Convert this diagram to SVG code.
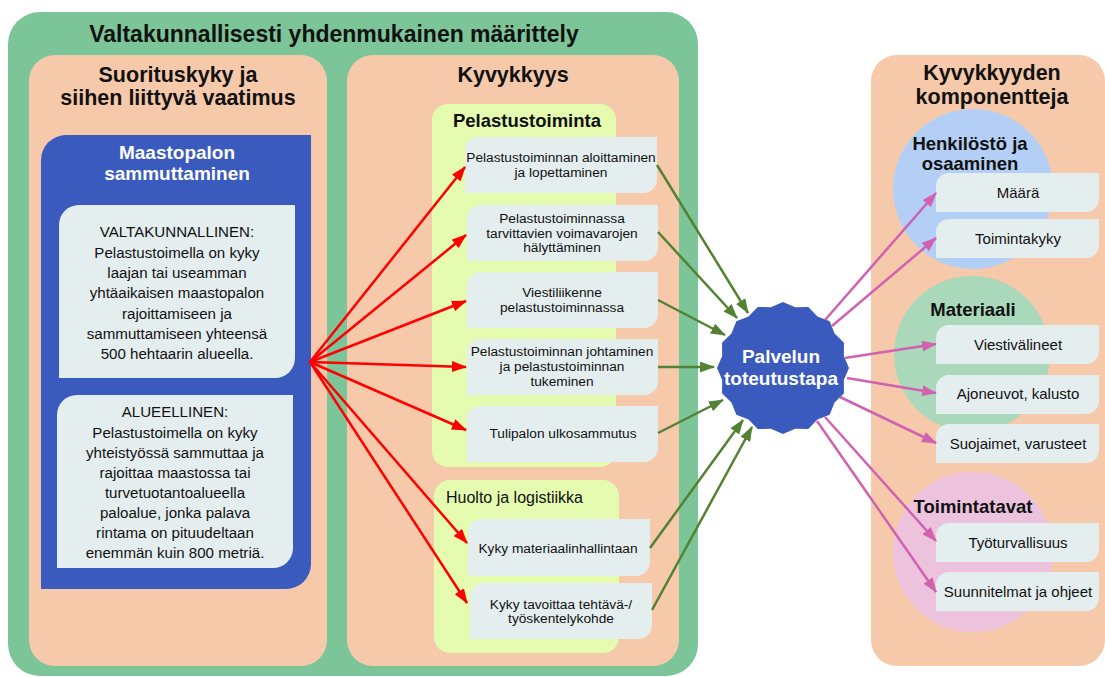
<svg xmlns="http://www.w3.org/2000/svg" width="1105" height="677" viewBox="0 0 1105 677">
<style>
text{font-family:"Liberation Sans",Arial,sans-serif;fill:#111;text-anchor:middle}
.h1{font-size:23px;font-weight:bold}
.h2{font-size:21.5px;font-weight:bold}
.h3{font-size:18.5px;font-weight:bold}
.wt{fill:#fff;font-size:19px;font-weight:bold}
.it{font-size:13.7px}
.rt{font-size:15px}
.lt{font-size:15.1px}
.box{fill:#e5eeef}
.peach{fill:#f6c9aa}
.lg{fill:#e5fbb0}
.red{stroke:#ff0000;stroke-width:2.5;fill:none;marker-end:url(#ar)}
.grn{stroke:#548235;stroke-width:2.5;fill:none;marker-end:url(#ag)}
.pnk{stroke:#d062b0;stroke-width:2.5;fill:none;marker-end:url(#ap)}
</style>
<defs>
<marker id="ar" markerUnits="userSpaceOnUse" markerWidth="15" markerHeight="11" refX="14" refY="5.5" orient="auto"><path d="M0,0 L15,5.5 L0,11 z" fill="#ff0000"/></marker>
<marker id="ag" markerUnits="userSpaceOnUse" markerWidth="15" markerHeight="11" refX="14" refY="5.5" orient="auto"><path d="M0,0 L15,5.5 L0,11 z" fill="#548235"/></marker>
<marker id="ap" markerUnits="userSpaceOnUse" markerWidth="15" markerHeight="11" refX="14" refY="5.5" orient="auto"><path d="M0,0 L15,5.5 L0,11 z" fill="#d062b0"/></marker>
</defs>
<rect width="1105" height="677" fill="#fff"/>

<g id="valtakunnallisesti">
<rect x="8" y="12" width="690" height="664" rx="32" fill="#7bc598"/>
<text class="h1" x="334" y="42">Valtakunnallisesti yhdenmukainen määrittely</text>
</g>

<g id="suorituskyky">
<rect class="peach" x="29" y="55" width="298" height="611" rx="26"/>
<text class="h2" x="178" y="82">Suorituskyky ja</text>
<text class="h2" x="178" y="105">siihen liittyvä vaatimus</text>
</g>

<g id="maastopalon">
<path d="M66,135 H311 V564 A25 25 0 0 1 286,589 H41 V160 A25 25 0 0 1 66,135 Z" fill="#3a5bbd"/>
<text class="wt" x="177" y="159">Maastopalon</text>
<text class="wt" x="177" y="180">sammuttaminen</text>
</g>

<g id="valtakunnallinen">
<path class="box" d="M79,205 H295 V358 A20 20 0 0 1 275,378 H59 V225 A20 20 0 0 1 79,205 Z"/>
<text class="lt" x="177" y="237">VALTAKUNNALLINEN:</text>
<text class="lt" x="177" y="257.5">Pelastustoimella on kyky</text>
<text class="lt" x="177" y="278">laajan tai useamman</text>
<text class="lt" x="177" y="298">yhtäaikaisen maastopalon</text>
<text class="lt" x="177" y="318.5">rajoittamiseen ja</text>
<text class="lt" x="177" y="338.5">sammuttamiseen yhteensä</text>
<text class="lt" x="177" y="358.5">500 hehtaarin alueella.</text>
</g>

<g id="alueellinen">
<path class="box" d="M77,395 H293 V548 A20 20 0 0 1 273,568 H57 V415 A20 20 0 0 1 77,395 Z"/>
<text class="lt" x="175" y="417">ALUEELLINEN:</text>
<text class="lt" x="175" y="437.5">Pelastustoimella on kyky</text>
<text class="lt" x="175" y="458">yhteistyössä sammuttaa ja</text>
<text class="lt" x="175" y="478">rajoittaa maastossa tai</text>
<text class="lt" x="175" y="497.5">turvetuotantoalueella</text>
<text class="lt" x="175" y="518">paloalue, jonka palava</text>
<text class="lt" x="175" y="538">rintama on pituudeltaan</text>
<text class="lt" x="175" y="558">enemmän kuin 800 metriä.</text>
</g>

<g id="kyvykkyys">
<rect class="peach" x="347" y="55" width="332" height="611" rx="26"/>
<text class="h2" x="513" y="82">Kyvykkyys</text>
</g>

<g id="pelastustoiminta">
<rect class="lg" x="432" y="104" width="184" height="363" rx="16"/>
<text class="h3" x="527" y="127">Pelastustoiminta</text>
</g>

<g id="p1">
<path class="box" d="M479,137 H657 V179 A14 14 0 0 1 643,193 H465 V151 A14 14 0 0 1 479,137 Z"/>
<text class="it" x="561" y="162">Pelastustoiminnan aloittaminen</text>
<text class="it" x="561" y="177">ja lopettaminen</text>
</g>
<g id="p2">
<path class="box" d="M481,205 H658 V247 A14 14 0 0 1 644,261 H467 V219 A14 14 0 0 1 481,205 Z"/>
<text class="it" x="562" y="223">Pelastustoiminnassa</text>
<text class="it" x="562" y="237.5">tarvittavien voimavarojen</text>
<text class="it" x="562" y="252">hälyttäminen</text>
</g>
<g id="p3">
<path class="box" d="M481,272 H658 V314 A14 14 0 0 1 644,328 H467 V286 A14 14 0 0 1 481,272 Z"/>
<text class="it" x="562" y="297">Viestiliikenne</text>
<text class="it" x="562" y="311.5">pelastustoiminnassa</text>
</g>
<g id="p4">
<path class="box" d="M481,339 H658 V381 A14 14 0 0 1 644,395 H467 V353 A14 14 0 0 1 481,339 Z"/>
<text class="it" x="562" y="356">Pelastustoiminnan johtaminen</text>
<text class="it" x="562" y="371">ja pelastustoiminnan</text>
<text class="it" x="562" y="386">tukeminen</text>
</g>
<g id="p5">
<path class="box" d="M481,406 H658 V448 A14 14 0 0 1 644,462 H467 V420 A14 14 0 0 1 481,406 Z"/>
<text class="it" x="563" y="438">Tulipalon ulkosammutus</text>
</g>

<g id="huolto">
<rect class="lg" x="434" y="480" width="185" height="173" rx="16"/>
<text x="446" y="502.5" style="font-size:16px;text-anchor:start">Huolto ja logistiikka</text>
</g>
<g id="h1">
<path class="box" d="M482,519 H650 V562 A14 14 0 0 1 636,576 H468 V533 A14 14 0 0 1 482,519 Z"/>
<text class="it" x="558" y="553">Kyky materiaalinhallintaan</text>
</g>
<g id="h2">
<path class="box" d="M484,583 H652 V625 A14 14 0 0 1 638,639 H470 V597 A14 14 0 0 1 484,583 Z"/>
<text class="it" x="561" y="609">Kyky tavoittaa tehtävä-/</text>
<text class="it" x="561" y="623">työskentelykohde</text>
</g>

<g id="komponentteja">
<rect class="peach" x="871" y="55" width="234" height="611" rx="26"/>
<text class="h2" x="992" y="80">Kyvykkyyden</text>
<text class="h2" x="992" y="104">komponentteja</text>
</g>

<g id="henkilosto">
<circle cx="973" cy="189" r="80" fill="#b3cff6"/>
<text class="h3" x="970" y="149.5">Henkilöstö ja</text>
<text class="h3" x="970" y="169.5">osaaminen</text>
</g>
<g id="materiaali">
<circle cx="972" cy="354" r="78" fill="#a9d9ba"/>
<text class="h3" x="973" y="316">Materiaali</text>
</g>
<g id="toimintatavat">
<circle cx="973" cy="552" r="80" fill="#ecc2dd"/>
<text class="h3" x="973" y="513">Toimintatavat</text>
</g>

<g id="maara">
<path class="box" d="M949,173 H1099 V199 A13 13 0 0 1 1086,212 H936 V186 A13 13 0 0 1 949,173 Z"/>
<text class="rt" x="1018" y="198">Määrä</text>
</g>
<g id="toimintakyky">
<path class="box" d="M949,219 H1099 V245 A13 13 0 0 1 1086,258 H936 V232 A13 13 0 0 1 949,219 Z"/>
<text class="rt" x="1018" y="243.5">Toimintakyky</text>
</g>
<g id="viestivalineet">
<path class="box" d="M949,325 H1099 V351 A13 13 0 0 1 1086,364 H936 V338 A13 13 0 0 1 949,325 Z"/>
<text class="rt" x="1018" y="349.5">Viestivälineet</text>
</g>
<g id="ajoneuvot">
<path class="box" d="M949,375 H1099 V401 A13 13 0 0 1 1086,414 H936 V388 A13 13 0 0 1 949,375 Z"/>
<text class="rt" x="1018" y="398.5">Ajoneuvot, kalusto</text>
</g>
<g id="suojaimet">
<path class="box" d="M949,424 H1099 V450 A13 13 0 0 1 1086,463 H936 V437 A13 13 0 0 1 949,424 Z"/>
<text class="rt" x="1018" y="448.5">Suojaimet, varusteet</text>
</g>
<g id="tyoturvallisuus">
<path class="box" d="M949,523 H1099 V549 A13 13 0 0 1 1086,562 H936 V536 A13 13 0 0 1 949,523 Z"/>
<text class="rt" x="1018" y="547.5">Työturvallisuus</text>
</g>
<g id="suunnitelmat">
<path class="box" d="M949,572 H1099 V598 A13 13 0 0 1 1086,611 H936 V585 A13 13 0 0 1 949,572 Z"/>
<text class="rt" x="1018" y="596.5">Suunnitelmat ja ohjeet</text>
</g>

<g id="connectors">
<line class="red" x1="310" y1="362" x2="465" y2="167"/>
<line class="red" x1="310" y1="362" x2="466" y2="235"/>
<line class="red" x1="310" y1="362" x2="466" y2="301"/>
<line class="red" x1="310" y1="362" x2="466" y2="367"/>
<line class="red" x1="310" y1="362" x2="466" y2="430"/>
<line class="red" x1="310" y1="362" x2="467" y2="543"/>
<line class="red" x1="310" y1="362" x2="467" y2="603"/>
<line class="grn" x1="657" y1="165" x2="748" y2="313"/>
<line class="grn" x1="658" y1="232" x2="737" y2="318"/>
<line class="grn" x1="658" y1="300" x2="725" y2="335"/>
<line class="grn" x1="658" y1="367" x2="714" y2="367"/>
<line class="grn" x1="658" y1="433" x2="723" y2="400"/>
<line class="grn" x1="650" y1="548" x2="743" y2="420"/>
<line class="grn" x1="652" y1="610" x2="752" y2="427"/>
<line class="pnk" x1="825" y1="320" x2="936" y2="193"/>
<line class="pnk" x1="832" y1="326" x2="936" y2="238"/>
<line class="pnk" x1="845" y1="358" x2="936" y2="344"/>
<line class="pnk" x1="847" y1="378" x2="936" y2="393"/>
<line class="pnk" x1="840" y1="397" x2="936" y2="443"/>
<line class="pnk" x1="825" y1="417" x2="936" y2="541"/>
<line class="pnk" x1="817" y1="421" x2="936" y2="592"/>
</g>

<g id="palvelun">
<polygon fill="#3a5bbd" transform="translate(2,0)" points="847,368 841.81,380.10 841.98,393.26 832.55,402.45 827.67,414.67 815.45,419.55 806.26,428.98 793.10,428.81 781,434 768.90,428.81 755.74,428.98 746.55,419.55 734.33,414.67 729.45,402.45 720.02,393.26 720.19,380.10 715,368 720.19,355.90 720.02,342.74 729.45,333.55 734.33,321.33 746.55,316.45 755.74,307.02 768.90,307.19 781,302 793.10,307.19 806.26,307.02 815.45,316.45 827.67,321.33 832.55,333.55 841.98,342.74 841.81,355.90"/>
<text class="wt" x="781" y="363">Palvelun</text>
<text class="wt" x="781" y="385">toteutustapa</text>
</g>
</svg>
